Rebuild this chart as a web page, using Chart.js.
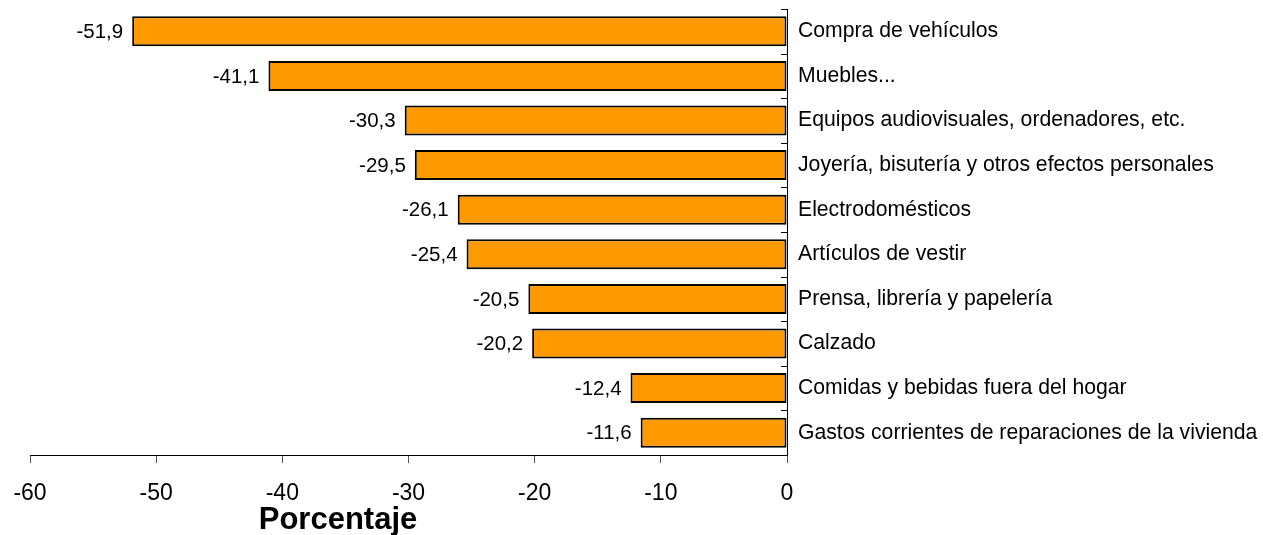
<!DOCTYPE html>
<html>
<head>
<meta charset="utf-8">
<script src="https://cdn.jsdelivr.net/npm/chart.js@4"></script>
<style>
    html, body { margin: 0; padding: 0; background: #fff; }
    #chart { display: block; }
</style>
</head>
<body>
<canvas id="chart" width="1263" height="535"></canvas>
<script>
// Chart data
const categories = [
    'Compra de vehículos',
    'Muebles...',
    'Equipos audiovisuales, ordenadores, etc.',
    'Joyería, bisutería y otros efectos personales',
    'Electrodomésticos',
    'Artículos de vestir',
    'Prensa, librería y papelería',
    'Calzado',
    'Comidas y bebidas fuera del hogar',
    'Gastos corrientes de reparaciones de la vivienda'
];
const values = [-51.9, -41.1, -30.3, -29.5, -26.1, -25.4, -20.5, -20.2, -12.4, -11.6];
const xTicks = [-60, -50, -40, -30, -20, -10, 0];
const axisTitle = 'Porcentaje';

const FONT = '"Liberation Sans", Arial, sans-serif';

/**
 * Draws value labels, the small ticks on the zero line and the axis title
 */
const extrasPlugin = {
    id: 'extras',
    afterDatasetsDraw(chart) {
        const ctx = chart.ctx;
        const meta = chart.getDatasetMeta(0);
        const yScale = chart.scales.y;
        const area = chart.chartArea;

        ctx.save();
        // value labels left of each bar
        ctx.font = '20.5px ' + FONT;
        ctx.fillStyle = '#000';
        ctx.textAlign = 'right';
        ctx.textBaseline = 'middle';
        meta.data.forEach((bar, i) => {
            const label = values[i].toFixed(1).replace('.', ',');
            ctx.fillText(label, bar.x - 9, bar.y + 1);
        });

        // little ticks on the zero line between categories
        const step = (yScale.bottom - yScale.top) / categories.length;
        ctx.strokeStyle = '#000';
        ctx.lineWidth = 1;
        for (let i = 0; i < categories.length; i++) {
            const y = Math.round(yScale.top + i * step) + 0.5;
            ctx.beginPath();
            ctx.moveTo(area.right - 6, y);
            ctx.lineTo(area.right, y);
            ctx.stroke();
        }

        // axis title
        ctx.font = 'bold 31px ' + FONT;
        ctx.textAlign = 'center';
        ctx.textBaseline = 'alphabetic';
        ctx.fillText(axisTitle, 338, 529);
        ctx.restore();
    }
};

function initializeChart() {
    const ctx = document.getElementById('chart');
    if (!ctx) return;

    new Chart(ctx.getContext('2d'), {
        type: 'bar',
        data: {
            labels: categories,
            datasets: [{
                data: values,
                backgroundColor: '#FF9900',
                borderColor: '#000000',
                borderWidth: 2,
                borderSkipped: false,
                categoryPercentage: 1,
                barPercentage: 0.672
            }]
        },
        options: {
            indexAxis: 'y',
            responsive: false,
            animation: false,
            devicePixelRatio: 1,
            layout: {
                padding: { left: 30, top: 9, right: 0, bottom: 0 }
            },
            plugins: {
                legend: { display: false },
                tooltip: { enabled: false }
            },
            scales: {
                x: {
                    position: 'bottom',
                    min: xTicks[0],
                    max: xTicks[xTicks.length - 1],
                    afterBuildTicks: function(scale) {
                        scale.ticks = xTicks.map(v => ({ value: v }));
                    },
                    afterFit: function(scale) {
                        scale.height = 80;
                        scale.paddingLeft = 0;
                        scale.paddingRight = 0;
                    },
                    grid: {
                        drawOnChartArea: false,
                        tickLength: 8,
                        tickColor: '#555'
                    },
                    border: { color: '#000', width: 1 },
                    ticks: {
                        color: '#000',
                        padding: 17,
                        maxRotation: 0,
                        font: { family: FONT, size: 23 },
                        callback: function(value) { return value; }
                    }
                },
                y: {
                    position: 'right',
                    afterFit: function(scale) {
                        scale.width = 476;
                        scale.paddingTop = 0;
                        scale.paddingBottom = 0;
                    },
                    grid: {
                        drawOnChartArea: false,
                        drawTicks: false
                    },
                    border: { color: '#000', width: 1 },
                    ticks: {
                        color: '#000',
                        padding: 11,
                        font: { family: FONT, size: 21.2 }
                    }
                }
            }
        },
        plugins: [extrasPlugin]
    });
}

initializeChart();
</script>
</body>
</html>
